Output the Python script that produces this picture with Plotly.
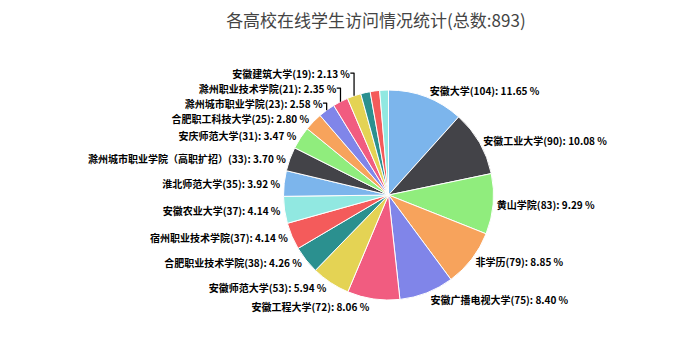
import plotly.graph_objects as go

names = ["安徽大学", "安徽工业大学", "黄山学院", "非学历", "安徽广播电视大学", "安徽工程大学",
         "安徽师范大学", "合肥职业技术学院", "宿州职业技术学院", "安徽农业大学", "淮北师范大学",
         "滁州城市职业学院（高职扩招）", "安庆师范大学", "合肥职工科技大学", "滁州城市职业学院",
         "滁州职业技术学院", "安徽建筑大学", "其他A", "其他B", "其他C"]
values = [104, 90, 83, 79, 75, 72, 53, 38, 37, 37, 35, 33, 31, 25, 23, 21, 19, 13, 13, 12]
show_label = [True] * 17 + [False] * 3

palette = ["#7cb5ec", "#434348", "#90ed7d", "#f7a35c", "#8085e9",
           "#f15c80", "#e4d354", "#2b908f", "#f45b5b", "#91e8e1"]

total = sum(values)
texts = [f"{n}({v}): {v / total * 100:.2f} %" if s else ""
         for n, v, s in zip(names, values, show_label)]
positions = ["outside" if s else "none" for s in show_label]
colors = [palette[i % len(palette)] for i in range(len(values))]

fig = go.Figure(go.Pie(
    labels=names, values=values, text=texts,
    textinfo="text", texttemplate="<b>%{text}</b>",
    textposition=positions, sort=False, direction="clockwise", rotation=0,
    marker=dict(colors=colors, line=dict(color="white", width=1)),
    textfont=dict(family="Noto Sans CJK SC", size=10, color="#000000"),
    domain=dict(x=[0.405, 0.705], y=[0.15, 0.745]),
    showlegend=False,
))

fig.update_layout(
    width=700, height=353,
    margin=dict(l=0, r=0, t=0, b=0),
    paper_bgcolor="white",
    title=dict(text="各高校在线学生访问情况统计(总数:893)", x=0.537, xanchor="center",
               y=0.94, yanchor="middle",
               font=dict(family="Noto Sans CJK SC", size=17, color="#444444")),
)

fig.write_html("out.html")
